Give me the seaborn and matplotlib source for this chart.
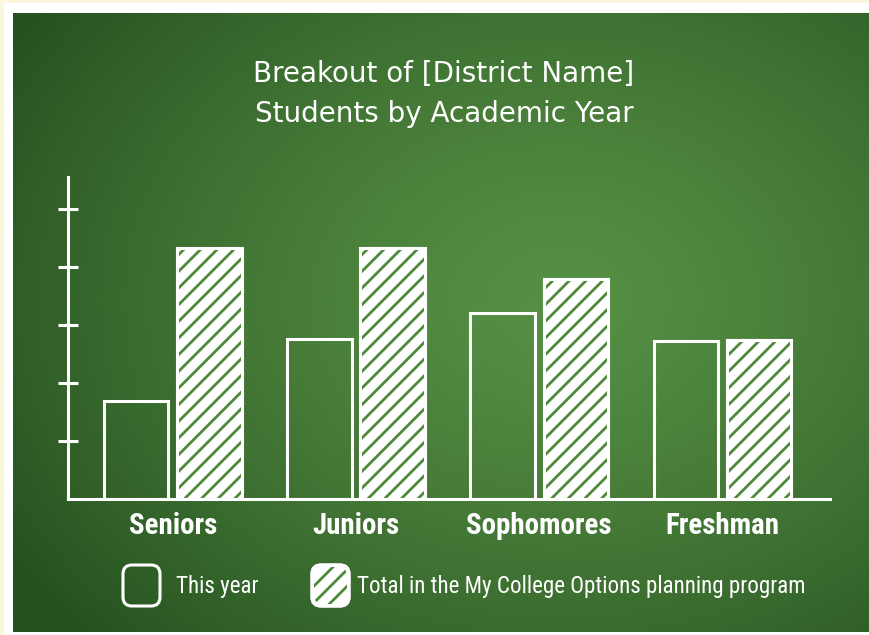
import numpy as np
import pandas as pd
import matplotlib
matplotlib.use("Agg")
import matplotlib.pyplot as plt
import seaborn as sns
from matplotlib.patches import Rectangle, FancyBboxPatch

# ---------------- data ----------------
categories = ["Seniors", "Juniors", "Sophomores", "Freshman"]
this_year = [1.69, 2.75, 3.20, 2.72]
total_program = [4.33, 4.32, 3.78, 2.73]
series_labels = ["This year", "Total in the My College Options planning program"]
title_lines = ["Breakout of [District Name]", "Students by Academic Year"]
y_ticks = [1, 2, 3, 4, 5]

df = pd.DataFrame({
    "category": categories * 2,
    "value": this_year + total_program,
    "series": [series_labels[0]] * len(categories) + [series_labels[1]] * len(categories),
})

# ---------------- style ----------------
sns.set_theme(style="white")
plt.rcParams["hatch.linewidth"] = 2.0
from matplotlib import font_manager as fm
_installed = {f.name for f in fm.fontManager.ttflist}
NARROW = [f for f in ["Liberation Sans Narrow", "Roboto Condensed", "Open Sans Condensed",
                      "DejaVu Sans Condensed", "DejaVu Sans"] if f in _installed] or ["DejaVu Sans"]
CHALK = "white"
HATCH_GREEN = "#4E8A3A"

W, H = 869, 635
fig = plt.figure(figsize=(W / 100, H / 100), dpi=100)
fig.patch.set_facecolor("#FAF7DC")

# white frame + chalkboard background
frame = fig.add_axes([0, 0, 1, 1], zorder=0)
frame.axis("off")
frame.add_patch(Rectangle((4, 3), W, H, facecolor="white", edgecolor="none"))

gx = np.linspace(13, W, 300)
gy = np.linspace(13, 632, 220)
XX, YY = np.meshgrid(gx, gy)
d = np.sqrt(((XX - 560) / 560) ** 2 + ((YY - 300) / 430) ** 2)
t = np.clip(d, 0, 1.15) / 1.15
t = t ** 1.3
light = np.array([86, 144, 68]) / 255
dark = np.array([38, 82, 32]) / 255
img = light[None, None, :] * (1 - t[..., None]) + dark[None, None, :] * t[..., None]
frame.imshow(img, extent=(13, W, 632, 13), aspect="auto", interpolation="bilinear", zorder=1)
frame.set_xlim(0, W)
frame.set_ylim(H, 0)

# ---------------- main chart ----------------
ax = fig.add_axes([68 / W, 1 - 498.5 / H, (830 - 68) / W, (498.5 - 177.5) / H], zorder=2)
ax.patch.set_alpha(0)

sns.barplot(
    data=df, x="category", y="value", hue="series",
    palette={series_labels[0]: "white", series_labels[1]: "white"},
    width=0.8, gap=0.12, saturation=1, linewidth=2.2, edgecolor=CHALK,
    legend=False, ax=ax, errorbar=None,
)

for bar in ax.containers[0]:
    bar.set_facecolor((0, 0, 0, 0))
for bar in ax.containers[1]:
    x0, y0 = bar.get_x(), bar.get_y()
    w, h = bar.get_width(), bar.get_height()
    ax.add_patch(Rectangle((x0, y0), w, h, facecolor="none", edgecolor=HATCH_GREEN,
                           hatch="//", linewidth=0, zorder=3))
    ax.add_patch(Rectangle((x0, y0), w, h, facecolor="none", edgecolor=CHALK,
                           linewidth=2.2, zorder=4))

ax.set_xlim(-0.571, 3.587)
ax.set_ylim(0, 5.54)
ax.set_xlabel("")
ax.set_ylabel("")
ax.set_yticks(y_ticks)
ax.set_yticklabels([])
ax.tick_params(axis="y", direction="inout", length=14, width=2.2, color=CHALK, left=True)
ax.tick_params(axis="x", length=0, pad=9.5, labelcolor=CHALK)
xlabels = ax.get_xticklabels()
for lab in xlabels:
    lab.set_fontfamily(NARROW)
    lab.set_fontstretch("condensed")
    lab.set_fontweight("bold")
    lab.set_fontsize(19.5)
for side in ["top", "right"]:
    ax.spines[side].set_visible(False)
for side in ["left", "bottom"]:
    ax.spines[side].set_color(CHALK)
    ax.spines[side].set_linewidth(2.2)

# ---------------- title ----------------
t1 = fig.text(444 / W, 1 - 74.5 / H, title_lines[0], ha="center", va="center",
              color=CHALK, fontsize=19, family="DejaVu Sans")
t2 = fig.text(444 / W, 1 - 114.5 / H, title_lines[1], ha="center", va="center",
              color=CHALK, fontsize=19, family="DejaVu Sans")

# ---------------- legend (pixel coordinates) ----------------
leg = fig.add_axes([0, 0, 1, 1], zorder=5)
leg.set_xlim(0, W)
leg.set_ylim(H, 0)
leg.axis("off")
leg.patch.set_alpha(0)

box_style = "round,pad=0,rounding_size=9"
leg.add_patch(FancyBboxPatch((123, 565), 37, 41, boxstyle=box_style,
                             facecolor="none", edgecolor=CHALK, linewidth=2.2))
leg.add_patch(FancyBboxPatch((312, 565), 37, 41, boxstyle=box_style,
                             facecolor="white", edgecolor=CHALK, linewidth=2.2))
leg.add_patch(FancyBboxPatch((314, 567), 33, 37, boxstyle=box_style,
                             facecolor="none", edgecolor=HATCH_GREEN, hatch="//", linewidth=0))
leg.add_patch(FancyBboxPatch((312, 565), 37, 41, boxstyle=box_style,
                             facecolor="none", edgecolor=CHALK, linewidth=2.2))
l1 = leg.text(176, 587, series_labels[0], ha="left", va="center", color=CHALK,
              fontsize=16.5, family=NARROW, fontstretch="condensed")
l2 = leg.text(357, 587, series_labels[1], ha="left", va="center", color=CHALK,
              fontsize=16.5, family=NARROW, fontstretch="condensed")

# ---------------- fit text widths to the reference layout ----------------
fig.canvas.draw()
renderer = fig.canvas.get_renderer()

def scale_for(text, target):
    return target / text.get_window_extent(renderer).width

s = scale_for(l2, 448)
for txt in (l1, l2):
    txt.set_fontsize(min(txt.get_fontsize() * s, 17.5))

s = min(scale_for(xlabels[2], 146), 1.12)
for lab in xlabels:
    lab.set_fontsize(lab.get_fontsize() * s)

s = scale_for(t1, 420)
for txt in (t1, t2):
    txt.set_fontsize(min(txt.get_fontsize() * s, 20))

fig.savefig("out.png", dpi=100, facecolor=fig.get_facecolor())
